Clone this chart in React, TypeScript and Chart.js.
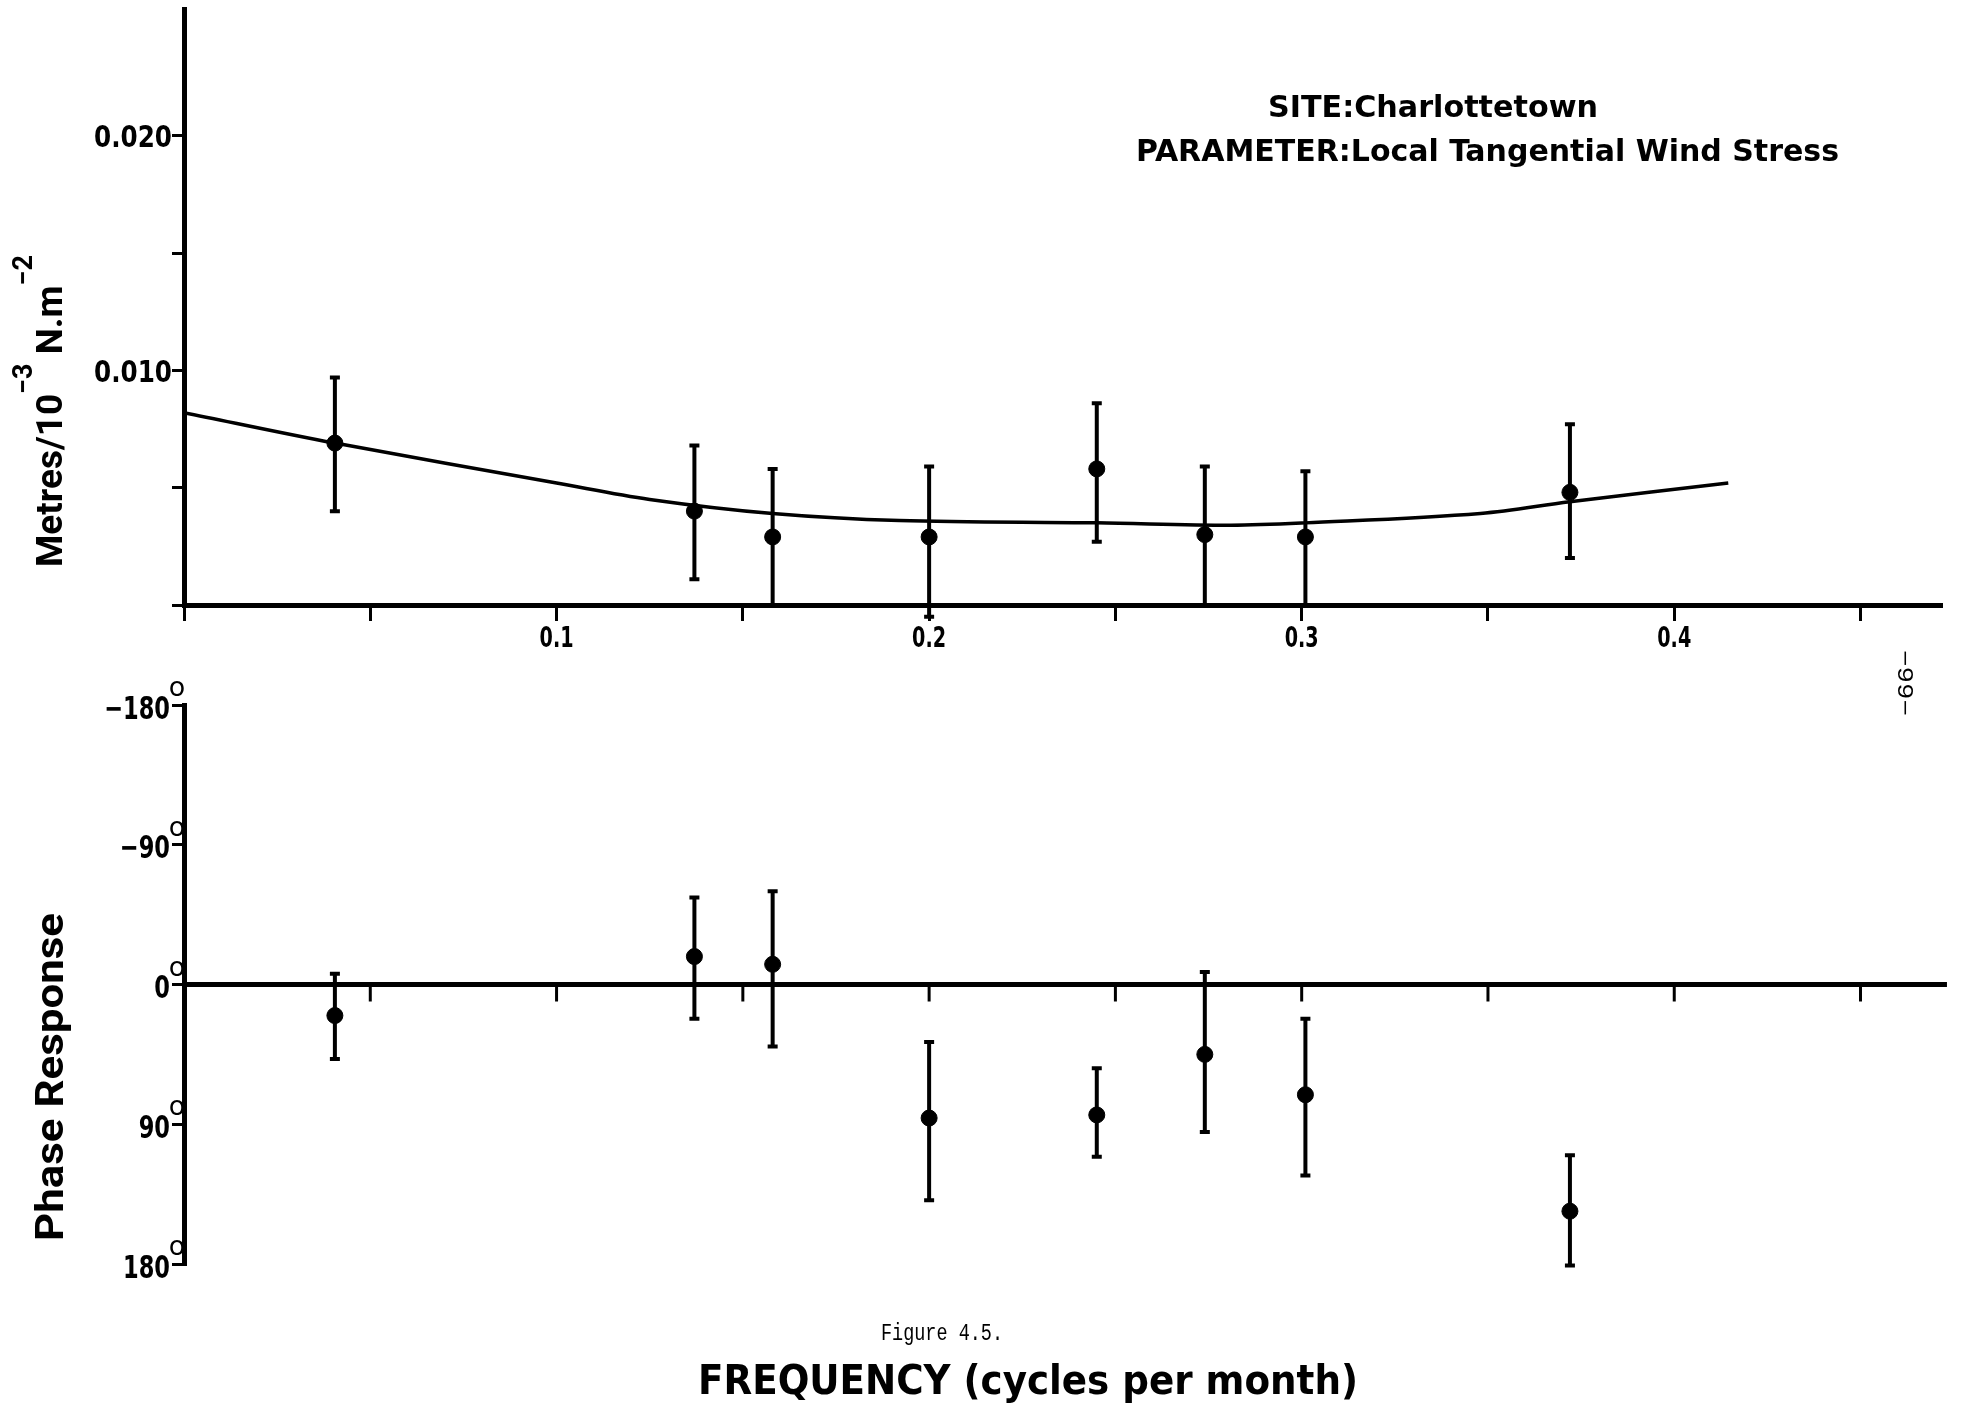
import React, { useEffect, useRef } from 'react';
import { Chart, registerables } from 'chart.js';

Chart.register(...registerables);

// ---------------- data ----------------
const FREQ = [0.0405, 0.137, 0.158, 0.2, 0.245, 0.274, 0.301, 0.372];
const AMP = [0.0069, 0.004, 0.0029, 0.0029, 0.0058, 0.003, 0.0029, 0.0048];
const AMP_LOW = [0.004, 0.0011, 0.0, -0.0005, 0.0027, 0.0, 0.0, 0.002];
const AMP_HIGH = [0.0097, 0.0068, 0.0058, 0.0059, 0.0086, 0.0059, 0.0057, 0.0077];
const CURVE_FREQ = [0, 0.0405, 0.1, 0.125, 0.158, 0.192, 0.245, 0.281, 0.301, 0.348, 0.372, 0.4145];
const CURVE_AMP = [0.0082, 0.0069, 0.0052, 0.0045, 0.0039, 0.0036, 0.0035, 0.0034, 0.0035, 0.0039, 0.0044, 0.0052];
const PHASE = [20, -18, -13, 86, 84, 45, 71, 146];
const PHASE_LOW = [-7, -56, -60, 37, 54, -8, 22, 110];
const PHASE_HIGH = [48, 22, 40, 139, 111, 95, 123, 181];

const FREQ_TICKS = [0, 0.05, 0.1, 0.15, 0.2, 0.25, 0.3, 0.35, 0.4, 0.45];
const FREQ_LABELS = ['', '', '0.1', '', '0.2', '', '0.3', '', '0.4', ''];
const AMP_TICKS = [0, 0.005, 0.01, 0.015, 0.02];
const AMP_LABELS = ['', '', '0.010', '', '0.020'];
const PHASE_TICKS = [-180, -90, 0, 90, 180];
const PHASE_LABELS = ['\u2212180', '\u221290', '0', '90', '180'];

const FREQ_MAX = 0.4716;
const FREQ_LINE_END = 0.4732;
const AMP_MAX = 0.0254;

const SITE_TEXT = 'SITE:Charlottetown';
const PARAM_TEXT = 'PARAMETER:Local Tangential Wind Stress';
const X_TITLE = 'FREQUENCY (cycles per month)';
const FIG_TEXT = 'Figure 4.5.';
const PAGE_TEXT = '\u221299\u2212';
const PHASE_TITLE = 'Phase Response';

// ---------------- helpers ----------------
const NARROW = '"Liberation Sans Narrow", "Arial Narrow", "DejaVu Sans Condensed", Roboto, sans-serif';
const SANS = 'Roboto, "Liberation Sans", "DejaVu Sans", sans-serif';
const MONO = '"Liberation Mono", "DejaVu Sans Mono", monospace';

function boxText(ctx: CanvasRenderingContext2D, text: string, left: number, centerY: number, width: number, size: number, font: string) {
  ctx.save();
  ctx.font = font;
  const w = ctx.measureText(text).width;
  const sx = width / w;
  ctx.translate(left, centerY + size * 0.36);
  ctx.scale(sx, 1);
  ctx.textAlign = 'left';
  ctx.textBaseline = 'alphabetic';
  ctx.fillStyle = '#000';
  ctx.fillText(text, 0, 0);
  ctx.restore();
}

function scaledText(ctx: CanvasRenderingContext2D, text: string, x: number, centerY: number, size: number, font: string, sx: number, align: string) {
  ctx.save();
  ctx.font = font;
  const w = ctx.measureText(text).width * sx;
  const x0 = align === 'right' ? x - w : align === 'center' ? x - w / 2 : x;
  ctx.translate(x0, centerY + size * 0.36);
  ctx.scale(sx, 1);
  ctx.textAlign = 'left';
  ctx.textBaseline = 'alphabetic';
  ctx.fillStyle = '#000';
  ctx.fillText(text, 0, 0);
  ctx.restore();
  return w;
}

function rotatedRich(ctx: CanvasRenderingContext2D, segs: { t: string; sup: boolean }[], baseX: number, yBottom: number, length: number, baseFont: string, supFont: string, raise: number) {
  ctx.save();
  const widths = segs.map((s) => {
    ctx.font = s.sup ? supFont : baseFont;
    return ctx.measureText(s.t).width;
  });
  const total = widths.reduce((a, b) => a + b, 0);
  const sx = length / total;
  ctx.translate(baseX, yBottom);
  ctx.rotate(-Math.PI / 2);
  ctx.scale(sx, 1);
  ctx.fillStyle = '#000';
  ctx.textBaseline = 'alphabetic';
  ctx.textAlign = 'left';
  let x = 0;
  segs.forEach((s, i) => {
    ctx.font = s.sup ? supFont : baseFont;
    ctx.fillText(s.t, x, s.sup ? -raise : 0);
    x += widths[i];
  });
  ctx.restore();
}

function drawErrorBars(chart: any, xs: number[], lows: number[], highs: number[]) {
  const ctx = chart.ctx;
  const xS = chart.scales.x;
  const yS = chart.scales.y;
  ctx.save();
  ctx.strokeStyle = '#000';
  ctx.lineWidth = 4;
  ctx.lineCap = 'butt';
  xs.forEach((f, i) => {
    const px = xS.getPixelForValue(f);
    const y1 = yS.getPixelForValue(lows[i]);
    const y2 = yS.getPixelForValue(highs[i]);
    ctx.beginPath();
    ctx.moveTo(px, y1);
    ctx.lineTo(px, y2);
    ctx.stroke();
    ctx.beginPath();
    ctx.moveTo(px - 5, y1);
    ctx.lineTo(px + 5, y1);
    ctx.moveTo(px - 5, y2);
    ctx.lineTo(px + 5, y2);
    ctx.stroke();
  });
  ctx.restore();
}

const TOP_CANVAS_Y = 0;
const BOTTOM_CANVAS_Y = 640;

export default function App() {
  const topRef = useRef<HTMLCanvasElement>(null);
  const botRef = useRef<HTMLCanvasElement>(null);

  useEffect(() => {
    const axisGrid = (len: number) => ({
      display: true,
      drawOnChartArea: false,
      drawTicks: true,
      tickLength: len,
      color: '#000',
      lineWidth: 3,
    });
    const border = { display: true, color: '#000', width: 5 };

    const topPlugin = {
      id: 'topDecor',
      afterDatasetsDraw(chart: any) {
        drawErrorBars(chart, FREQ, AMP_LOW, AMP_HIGH);
      },
      afterDraw(chart: any) {
        const ctx = chart.ctx as CanvasRenderingContext2D;
        const xS = chart.scales.x;
        const yS = chart.scales.y;
        const ca = chart.chartArea;
        // y tick labels
        const yFont = `bold 31px ${NARROW}`;
        ctx.font = yFont;
        const sxY = 78 / ctx.measureText('0.020').width;
        AMP_TICKS.forEach((v, i) => {
          if (!AMP_LABELS[i]) return;
          scaledText(ctx, AMP_LABELS[i], ca.left - 12, yS.getPixelForValue(v), 31, yFont, sxY, 'right');
        });
        // x tick labels
        const xFont = `bold 29px ${NARROW}`;
        ctx.font = xFont;
        const sxX = 34 / ctx.measureText('0.1').width;
        FREQ_TICKS.forEach((v, i) => {
          if (!FREQ_LABELS[i]) return;
          scaledText(ctx, FREQ_LABELS[i], xS.getPixelForValue(v), ca.bottom + 32, 29, xFont, sxX, 'center');
        });
        // header text
        boxText(ctx, SITE_TEXT, 1268, 106 - TOP_CANVAS_Y, 330, 31, `bold 31px ${NARROW}`);
        boxText(ctx, PARAM_TEXT, 1136, 150 - TOP_CANVAS_Y, 703, 31, `bold 31px ${NARROW}`);
        // y title
        rotatedRich(
          ctx,
          [
            { t: 'Metres/10', sup: false },
            { t: '\u22123', sup: true },
            { t: ' N.m', sup: false },
            { t: '\u22122', sup: true },
          ],
          62,
          567 - TOP_CANVAS_Y,
          312,
          `bold 37px ${SANS}`,
          `bold 27px ${SANS}`,
          30
        );
      },
    };

    const botPlugin = {
      id: 'botDecor',
      afterDatasetsDraw(chart: any) {
        const ctx = chart.ctx as CanvasRenderingContext2D;
        const xS = chart.scales.x;
        const yS = chart.scales.y;
        const ca = chart.chartArea;
        const y0 = yS.getPixelForValue(0);
        ctx.save();
        ctx.strokeStyle = '#000';
        ctx.lineWidth = 5;
        ctx.beginPath();
        ctx.moveTo(ca.left, y0);
        ctx.lineTo(xS.getPixelForValue(FREQ_LINE_END), y0);
        ctx.stroke();
        ctx.lineWidth = 3;
        FREQ_TICKS.forEach((v) => {
          if (v === 0) return;
          const px = xS.getPixelForValue(v);
          ctx.beginPath();
          ctx.moveTo(px, y0);
          ctx.lineTo(px, y0 + 17);
          ctx.stroke();
        });
        ctx.restore();
        drawErrorBars(chart, FREQ, PHASE_LOW, PHASE_HIGH);
      },
      afterDraw(chart: any) {
        const ctx = chart.ctx as CanvasRenderingContext2D;
        const yS = chart.scales.y;
        const ca = chart.chartArea;
        const lf = `bold 32px ${NARROW}`;
        ctx.font = lf;
        const sx = 47 / ctx.measureText('180').width;
        PHASE_TICKS.forEach((v, i) => {
          const py = yS.getPixelForValue(v);
          scaledText(ctx, PHASE_LABELS[i], ca.left - 14, py + 2, 32, lf, sx, 'right');
          scaledText(ctx, 'o', ca.left - 15, py - 19, 28, `28px ${SANS}`, 1.0, 'left');
        });
        rotatedRich(ctx, [{ t: PHASE_TITLE, sup: false }], 63, 1241 - BOTTOM_CANVAS_Y, 328, `bold 38px ${SANS}`, `bold 38px ${SANS}`, 0);
        boxText(ctx, FIG_TEXT, 881, 1331 - BOTTOM_CANVAS_Y, 122, 24, `24px ${MONO}`);
        boxText(ctx, X_TITLE, 698, 1380 - BOTTOM_CANVAS_Y, 660, 40, `bold 40px ${NARROW}`);
        // page number (rotated)
        ctx.save();
        ctx.font = `22px ${MONO}`;
        const pw = ctx.measureText(PAGE_TEXT).width;
        ctx.translate(1898, 650 - BOTTOM_CANVAS_Y);
        ctx.rotate(Math.PI / 2);
        ctx.scale(66 / pw, 1);
        ctx.fillStyle = '#000';
        ctx.textBaseline = 'alphabetic';
        ctx.fillText(PAGE_TEXT, 0, 0);
        ctx.restore();
      },
    };

    const topChart = new Chart(topRef.current as HTMLCanvasElement, {
      type: 'scatter',
      data: {
        datasets: [
          {
            data: CURVE_FREQ.map((x, i) => ({ x, y: CURVE_AMP[i] })),
            showLine: true,
            borderColor: '#000',
            borderWidth: 3.5,
            pointRadius: 0,
            tension: 0.35,
            fill: false,
          } as any,
          {
            data: FREQ.map((x, i) => ({ x, y: AMP[i] })),
            pointRadius: 8,
            pointBackgroundColor: '#000',
            pointBorderColor: '#000',
            borderColor: '#000',
            backgroundColor: '#000',
          },
        ],
      },
      options: {
        animation: false,
        responsive: false,
        maintainAspectRatio: false,
        layout: { padding: { left: 124, right: 25, top: 6, bottom: 35 } },
        plugins: { legend: { display: false }, tooltip: { enabled: false }, title: { display: false } },
        events: [],
        scales: {
          x: {
            type: 'linear',
            position: 'bottom',
            min: 0,
            max: FREQ_MAX,
            afterBuildTicks: (s: any) => {
              s.ticks = FREQ_TICKS.map((v) => ({ value: v }));
            },
            afterFit: (s: any) => {
              s.height = 60;
            },
            ticks: { display: false },
            grid: axisGrid(16),
            border,
          } as any,
          y: {
            type: 'linear',
            position: 'left',
            min: 0,
            max: AMP_MAX,
            afterBuildTicks: (s: any) => {
              s.ticks = AMP_TICKS.map((v) => ({ value: v }));
            },
            afterFit: (s: any) => {
              s.width = 60;
            },
            ticks: { display: false },
            grid: axisGrid(12),
            border,
          } as any,
        },
      },
      plugins: [topPlugin],
    });

    const botChart = new Chart(botRef.current as HTMLCanvasElement, {
      type: 'scatter',
      data: {
        datasets: [
          {
            data: FREQ.map((x, i) => ({ x, y: PHASE[i] })),
            pointRadius: 8,
            pointBackgroundColor: '#000',
            pointBorderColor: '#000',
            borderColor: '#000',
            backgroundColor: '#000',
          },
        ],
      },
      options: {
        animation: false,
        responsive: false,
        maintainAspectRatio: false,
        layout: { padding: { left: 124, right: 25, top: 65, bottom: 147 } },
        plugins: { legend: { display: false }, tooltip: { enabled: false }, title: { display: false } },
        events: [],
        scales: {
          x: { type: 'linear', min: 0, max: FREQ_MAX, display: false } as any,
          y: {
            type: 'linear',
            position: 'left',
            min: -180,
            max: 180,
            reverse: true,
            afterBuildTicks: (s: any) => {
              s.ticks = PHASE_TICKS.map((v) => ({ value: v }));
            },
            afterFit: (s: any) => {
              s.width = 60;
            },
            ticks: { display: false },
            grid: axisGrid(12),
            border,
          } as any,
        },
      },
      plugins: [botPlugin],
    });

    return () => {
      topChart.destroy();
      botChart.destroy();
    };
  }, []);

  return (
    <div style={{ position: 'absolute', left: 0, top: 0, width: 1966, height: 1411, overflow: 'hidden', background: '#fff' }}>
      <canvas
        ref={topRef}
        width={1966}
        height={700}
        style={{ position: 'absolute', left: 0, top: TOP_CANVAS_Y, width: 1966, height: 700 }}
      />
      <canvas
        ref={botRef}
        width={1966}
        height={771}
        style={{ position: 'absolute', left: 0, top: BOTTOM_CANVAS_Y, width: 1966, height: 771 }}
      />
    </div>
  );
}
